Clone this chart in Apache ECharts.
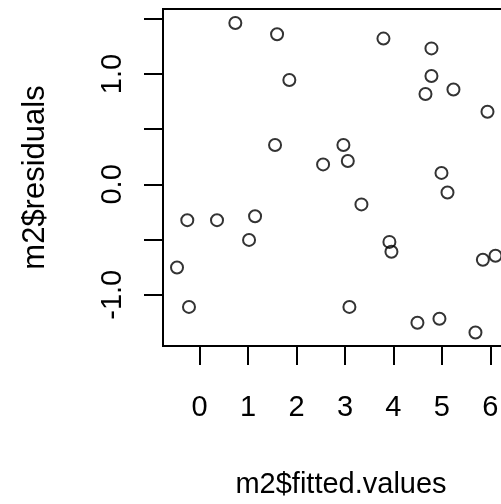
<!DOCTYPE html>
<html>
<head>
<meta charset="utf-8">
<script src="https://cdn.jsdelivr.net/npm/echarts@6/dist/echarts.min.js"></script>
<style>
  html, body { margin: 0; padding: 0; background: #fff; overflow: hidden; }
  #chart { width: 540px; height: 504px; }
</style>
</head>
<body>
<div id="chart"></div>
<script>
// Residuals vs fitted values of model m2
const fittedValues = [
  0.739, 1.600, 1.853, 3.794, 4.784, 4.784, 4.661, 5.238, 5.940, 1.558,
  2.968, 3.059, 2.549, 4.991, 5.115, 3.340, -0.252, 0.361, 1.146, 1.022,
  3.917, 3.959, 5.845, 6.105, -0.464, -0.217, 3.092, 4.495, 4.949, 5.692
];
const residuals = [
  1.462, 1.360, 0.946, 1.321, 1.232, 0.982, 0.819, 0.860, 0.658, 0.357,
  0.357, 0.212, 0.181, 0.104, -0.074, -0.181, -0.324, -0.324, -0.288, -0.503,
  -0.521, -0.610, -0.682, -0.646, -0.753, -1.110, -1.110, -1.253, -1.217, -1.342
];
const xTicks = [0, 1, 2, 3, 4, 5, 6];
const yTicks = [-1.0, -0.5, 0.0, 0.5, 1.0, 1.5];
const yTickLabels = [-1.0, 0.0, 1.0];

const points = fittedValues.map((x, i) => [x, residuals[i]]);
const FONT = 'Liberation Sans, Arial, sans-serif';

const chart = echarts.init(document.getElementById('chart'), null, { renderer: 'canvas' });
chart.setOption({
  animation: false,
  backgroundColor: '#fff',
  grid: {
    left: 163, top: 9, right: 21, bottom: 152,
    show: true, borderColor: '#000', borderWidth: 2, backgroundColor: 'transparent'
  },
  xAxis: {
    type: 'value',
    min: -0.753, max: 6.59,
    name: 'm2$fitted.values',
    nameLocation: 'middle',
    nameGap: 124,
    nameTextStyle: { fontFamily: FONT, fontSize: 29, color: '#000' },
    axisLine: { show: true, onZero: false, lineStyle: { color: '#000', width: 2 } },
    splitLine: { show: false },
    axisTick: { show: true, inside: false, length: 19, customValues: xTicks,
      lineStyle: { color: '#000', width: 2 } },
    axisLabel: { customValues: xTicks, margin: 47, fontFamily: FONT, fontSize: 29, color: '#000',
      formatter: v => String(v) }
  },
  yAxis: {
    type: 'value',
    min: -1.464, max: 1.589,
    name: 'm2$residuals',
    nameLocation: 'middle',
    nameRotate: 90,
    nameGap: 112,
    nameTextStyle: { fontFamily: FONT, fontSize: 31, color: '#000' },
    axisLine: { show: true, onZero: false, lineStyle: { color: '#000', width: 2 } },
    splitLine: { show: false },
    axisTick: { show: true, inside: false, length: 19, customValues: yTicks,
      lineStyle: { color: '#000', width: 2 } },
    axisLabel: { customValues: yTickLabels, rotate: 90, margin: 36, fontFamily: FONT, fontSize: 29,
      color: '#000', formatter: v => v.toFixed(1) }
  },
  series: [{
    type: 'scatter',
    data: points,
    symbol: 'circle',
    symbolSize: 12,
    itemStyle: { color: 'rgba(0,0,0,0)', borderColor: '#000', borderWidth: 2 }
  }]
});
</script>
</body>
</html>
